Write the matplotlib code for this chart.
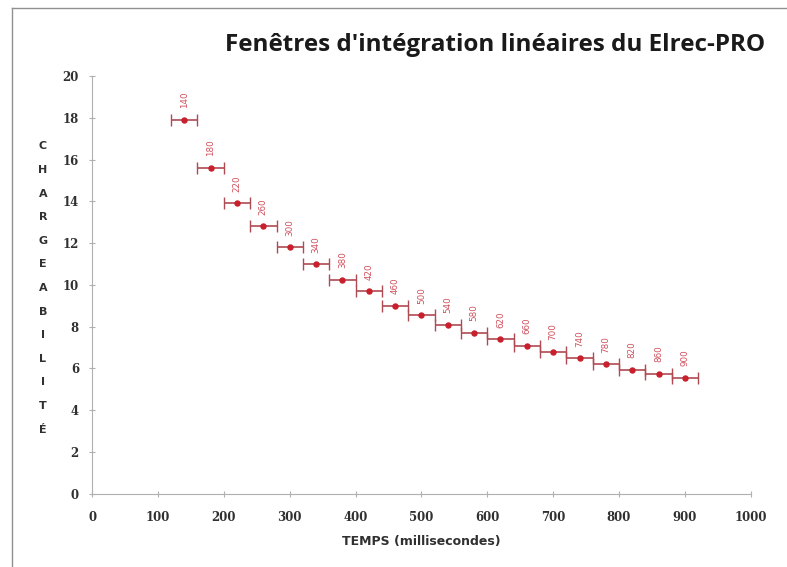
import matplotlib
matplotlib.use("Agg")
import matplotlib.pyplot as plt
from matplotlib.lines import Line2D

# window centres (ms) and chargeability values
temps = [140, 180, 220, 260, 300, 340, 380, 420, 460, 500,
         540, 580, 620, 660, 700, 740, 780, 820, 860, 900]
chargeabilite = [17.9, 15.6, 13.9, 12.8, 11.8, 11.0, 10.25, 9.7, 9.0, 8.55,
                 8.1, 7.7, 7.4, 7.1, 6.8, 6.5, 6.2, 5.95, 5.75, 5.55]
demi_fenetre = [20] * len(temps)
etiquettes = [str(t) for t in temps]

fig = plt.figure(figsize=(7.87, 5.67), dpi=100)
ax = fig.add_axes([0.117, 0.129, 0.837, 0.737])

ax.errorbar(temps, chargeabilite, xerr=demi_fenetre, fmt="o", ms=3.6,
            color="#c8202c", ecolor="#b04a52", elinewidth=1.2,
            capsize=4, capthick=1.0)

for t, c, lab in zip(temps, chargeabilite, etiquettes):
    ax.text(t, c + 0.55, lab, rotation=90, ha="center", va="bottom",
            fontsize=6.3, color="#d0505c")

ax.set_xlim(0, 1000)
ax.set_ylim(0, 20)
ax.set_xticks(range(0, 1001, 100))
ax.set_yticks(range(0, 21, 2))
for side in ("top", "right"):
    ax.spines[side].set_visible(False)
for side in ("left", "bottom"):
    ax.spines[side].set_color("#b0b0b0")
ax.tick_params(direction="inout", length=4, color="#b0b0b0",
               labelsize=8.5, labelcolor="#303030")
ax.tick_params(axis="x", pad=10)
ax.tick_params(axis="y", pad=7.5)
for lab in ax.get_xticklabels() + ax.get_yticklabels():
    lab.set_fontfamily("DejaVu Serif")
    lab.set_fontweight("bold")

ax.set_xlabel("TEMPS (millisecondes)", fontsize=9, fontweight="bold",
              color="#303030", labelpad=8)

# stacked vertical label
fig.text(43 / 787, 1 - 288 / 567, "\n".join("CHARGEABILITÉ"),
         ha="center", va="center", fontsize=8, fontweight="bold",
         color="#303030", linespacing=2.7)

fig.text(495 / 787, 1 - 45 / 567, "Fenêtres d'intégration linéaires du Elrec-PRO",
         ha="center", va="center", fontsize=17.5, fontweight="bold",
         family="Open Sans", color="#1a1a1a")

# outer frame of the chart area
fig.add_artist(Line2D([12 / 787, 12 / 787], [0, 1 - 8 / 567],
                      transform=fig.transFigure, color="#909090", lw=1))
fig.add_artist(Line2D([12 / 787, 1], [1 - 8 / 567, 1 - 8 / 567],
                      transform=fig.transFigure, color="#909090", lw=1))

fig.savefig("out.png", dpi=100)
